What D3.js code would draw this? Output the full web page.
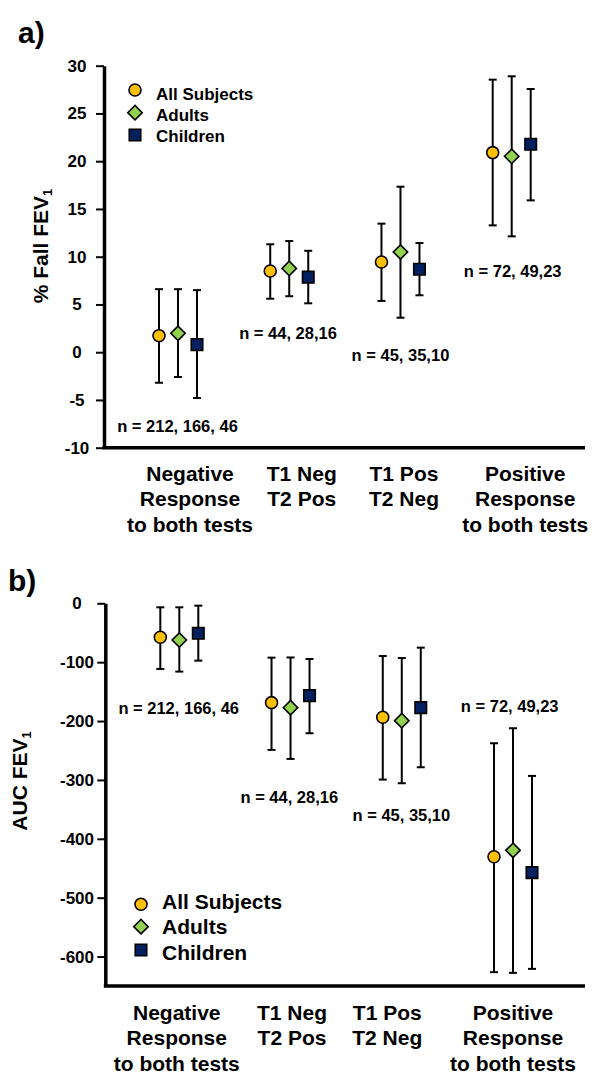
<!DOCTYPE html>
<html><head><meta charset="utf-8">
<script src="https://cdn.jsdelivr.net/npm/d3@7"></script>
<style>
body{margin:0;background:#fff}
svg{display:block}
text{font-family:"Liberation Sans",Arial,sans-serif;font-weight:bold;fill:#000}
</style>
</head><body><svg id="c" width="600" height="1089"></svg>
<script>
// ---------- DATA ----------
const categories = [
  ["Negative","Response","to both tests"],
  ["T1 Neg","T2 Pos"],
  ["T1 Pos","T2 Neg"],
  ["Positive","Response","to both tests"]
];
const categoryKeys = ["neg","t1neg","t1pos","pos"];
const seriesNames = ["All Subjects","Adults","Children"];
const nLabels = ["n = 212, 166, 46","n = 44, 28,16","n = 45, 35,10","n = 72, 49,23"];

const fallTicks = [30,25,20,15,10,5,0,-5,-10];
const aucTicks = [0,-100,-200,-300,-400,-500,-600];

// Panel a: % Fall FEV1 (mean, lower, upper)
const fallAllMean  = [1.73, 8.5, 9.45, 20.9];
const fallAllLow   = [-3.2, 5.6, 5.37, 13.28];
const fallAllHigh  = [6.6, 11.3, 13.46, 28.54];
const fallAdultMean = [1.98, 8.77, 10.49, 20.51];
const fallAdultLow  = [-2.6, 5.86, 3.61, 12.13];
const fallAdultHigh = [6.6, 11.64, 17.33, 28.89];
const fallChildMean = [0.79, 7.86, 8.68, 21.77];
const fallChildLow  = [-4.8, 5.12, 5.96, 15.9];
const fallChildHigh = [6.5, 10.62, 11.43, 27.56];

// Panel b: AUC FEV1 (mean, lower, upper)
const aucAllMean  = [-57.7, -168.7, -193.6, -430.5];
const aucAllLow   = [-111.5, -249, -299.4, -626.5];
const aucAllHigh  = [-6.8, -92.3, -89.5, -237.7];
const aucAdultMean = [-62.3, -177.2, -199.3, -419.5];
const aucAdultLow  = [-116, -264.3, -305.6, -627.7];
const aucAdultHigh = [-6.8, -92, -92.9, -212.2];
const aucChildMean = [-51, -156.8, -177.2, -457.4];
const aucChildLow  = [-97.4, -220.7, -278.5, -620.9];
const aucChildHigh = [-4, -94.6, -75.3, -293.2];

// ---------- STYLE ----------
const colors = ["#FFC000","#92D050","#002060"];
const svg = d3.select("#c");

function symbolPath(i){
  if(i===0) return d3.symbol().type(d3.symbolCircle).size(Math.PI*36)();
  if(i===1) return d3.symbol().type(d3.symbolSquare).size(104)();
  return d3.symbol().type(d3.symbolSquare).size(132)();
}
function drawMarker(g, i, x, y){
  g.append("path").attr("d", symbolPath(i))
    .attr("transform", `translate(${x},${y})` + (i===1 ? " rotate(45)" : ""))
    .attr("fill", colors[i]).attr("stroke","#000").attr("stroke-width",1.6);
}

function drawPanel(cfg){
  const g = svg.append("g");
  const y = d3.scaleLinear().domain(cfg.yDomain).range(cfg.yRange);
  const x = d3.scalePoint().domain(categoryKeys).range(cfg.xRange);
  const xs = d3.scalePoint().domain(seriesNames).range([-19,19]);

  // panel letter
  g.append("text").attr("x",cfg.letterX).attr("y",cfg.letterY)
    .attr("font-size",30).text(cfg.letter);

  // y axis
  const ax = g.append("g").attr("transform",`translate(${cfg.axisX},0)`)
    .call(d3.axisLeft(y).tickValues(cfg.ticks).tickSize(8).tickSizeOuter(0).tickFormat(d => String(d)));
  ax.select(".domain").attr("stroke","#000").attr("stroke-width",3.5);
  ax.selectAll(".tick line").attr("stroke","#000").attr("stroke-width",2);
  ax.selectAll(".tick text").attr("x", cfg.tickLabelX - cfg.axisX)
    .attr("text-anchor","middle").attr("font-size",cfg.tickFont)
    .style("font-family",'"Liberation Sans",Arial,sans-serif').style("font-weight","bold");

  // x axis line
  const y0 = y(cfg.yDomain[0]);
  g.append("line").attr("x1",cfg.axisX-1.5).attr("x2",cfg.xEnd)
    .attr("y1",y0).attr("y2",y0).attr("stroke","#000").attr("stroke-width",3.5);

  // y title
  const t = g.append("text")
    .attr("transform",`translate(${cfg.titleX},${cfg.titleY}) rotate(-90)`)
    .attr("text-anchor","middle").attr("font-size",21);
  t.append("tspan").text(cfg.title);
  t.append("tspan").attr("font-size",13).attr("dy",4).text("1");

  // category labels
  categories.forEach((lines,ci)=>{
    const tx = g.append("text").attr("text-anchor","middle").attr("font-size",21);
    lines.forEach((ln,li)=>{
      tx.append("tspan").attr("x", x(categoryKeys[ci]) + cfg.catOffsets[ci])
        .attr("y", cfg.catY + li*25.3).text(ln);
    });
  });

  // n labels
  nLabels.forEach((lab,ci)=>{
    g.append("text").attr("text-anchor","middle").attr("font-size",16.5)
      .attr("x", x(categoryKeys[ci]) + cfg.nOffsets[ci]).attr("y", cfg.nY[ci]).text(lab);
  });

  // error bars + markers
  cfg.series.forEach((s,si)=>{
    s.mean.forEach((m,ci)=>{
      const cx = x(categoryKeys[ci]) + xs(seriesNames[si]);
      const yl = y(s.low[ci]), yh = y(s.high[ci]);
      g.append("line").attr("x1",cx).attr("x2",cx).attr("y1",yl).attr("y2",yh)
        .attr("stroke","#000").attr("stroke-width",2);
      [yl,yh].forEach(yy=>g.append("line").attr("x1",cx-4).attr("x2",cx+4)
        .attr("y1",yy).attr("y2",yy).attr("stroke","#000").attr("stroke-width",2));
    });
  });
  cfg.series.forEach((s,si)=>{
    s.mean.forEach((m,ci)=>{
      drawMarker(g, si, x(categoryKeys[ci]) + xs(seriesNames[si]), y(m));
    });
  });

  // legend
  seriesNames.forEach((nm,si)=>{
    drawMarker(g, si, cfg.legMarkerX, cfg.legMarkerY[si]);
    g.append("text").attr("x",cfg.legTextX).attr("y",cfg.legTextY[si])
      .attr("font-size",cfg.legFont).text(nm);
  });
}

drawPanel({
  letter:"a)", letterX:18, letterY:43,
  yDomain:[-10,30], yRange:[447.7,65.7], ticks:fallTicks,
  axisX:104, xRange:[178,511.7], xEnd:585,
  tickLabelX:77, tickFont:17,
  title:"% Fall FEV", titleX:48, titleY:246,
  catOffsets:[12,12.5,3.5,13.5], catY:481,
  nOffsets:[-0.5,-1.2,0,1], nY:[431.7,339,361,276.7],
  series:[
    {mean:fallAllMean, low:fallAllLow, high:fallAllHigh},
    {mean:fallAdultMean, low:fallAdultLow, high:fallAdultHigh},
    {mean:fallChildMean, low:fallChildLow, high:fallChildHigh}
  ],
  legMarkerX:135, legMarkerY:[90,112.7,135], legTextX:156, legTextY:[100,120.5,141.5], legFont:17
});

drawPanel({
  letter:"b)", letterX:8, letterY:591,
  yDomain:[-650,0], yRange:[986,603.3], ticks:aucTicks,
  axisX:105.3, xRange:[179.3,513], xEnd:585,
  tickLabelX:77, tickFont:17,
  title:"AUC FEV", titleX:27, titleY:781,
  catOffsets:[-2.5,1.5,-14.5,0], catY:1020,
  nOffsets:[-0.6,-1.2,-0.4,-3.3], nY:[714.3,802.7,821,711.7],
  series:[
    {mean:aucAllMean, low:aucAllLow, high:aucAllHigh},
    {mean:aucAdultMean, low:aucAdultLow, high:aucAdultHigh},
    {mean:aucChildMean, low:aucChildLow, high:aucChildHigh}
  ],
  legMarkerX:141, legMarkerY:[904.3,926.7,950], legTextX:162, legTextY:[908.5,934,959.5], legFont:21
});
</script>
</body></html>
